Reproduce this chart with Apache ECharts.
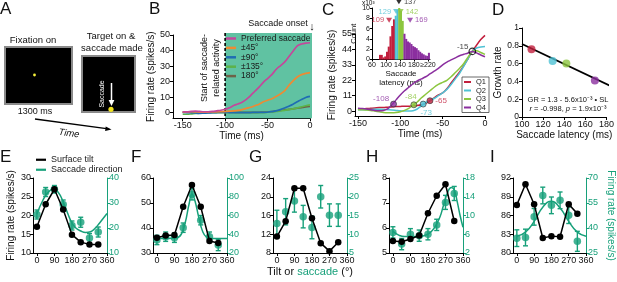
<!DOCTYPE html>
<html>
<head>
<meta charset="utf-8">
<script src="https://cdn.jsdelivr.net/npm/echarts@6/dist/echarts.min.js"></script>
<style>
html, body { margin: 0; padding: 0; background: #fff; }
#fig { width: 617px; height: 282px; }
</style>
</head>
<body>
<div id="fig"></div>
<script>
const FONT = '"Liberation Sans", Arial, sans-serif';
const GREEN = '#17a07a';
const SHADE = '#60c2a2';

// ---- B: firing rate vs time, by saccade direction ----
const timeMs = [-150,-145,-140,-135,-130,-125,-120,-115,-110,-105,-100,-95,-90,-85,-80,-75,-70,-65,-60,-55,-50,-45,-40,-35,-30,-25,-20,-15,-10,-5,0];
const prefB = [0.5,0.5,0.8,1.0,0.8,0.6,0.6,0.8,1.2,1.6,2.2,3.2,4.6,5.6,6.8,8.6,11,13.8,16.5,19.5,22,24.5,27.8,30.2,32.5,36,39.5,43,44.2,44.8,45];
const d45B = [0.4,0.5,0.6,0.5,0.4,0.3,0.4,0.5,0.5,0.6,0.8,1.0,1.2,1.5,2,2.8,3.5,4.5,5.5,7,8,9,10.5,12,14,17.5,20.5,23,24.5,25.3,25.8];
const d90B = [0.2,0.1,0,-0.2,-0.4,-0.3,-0.2,0,0.1,0.2,0.2,0.1,0,0,0,0.1,0.1,0.2,0.2,0.2,0.3,0.7,1.2,2.0,3.0,4.2,5.5,7,8.5,9.8,10.5];
const d135B = [-1,-1,-0.8,-0.5,-0.3,-0.2,0,0,0,0,0,0.1,0.1,0,0,0,0,0,0,0.1,0.3,0.5,0.8,1.1,1.5,2,2.5,3.1,3.8,4.5,5];
const d180B = [0.3,0.4,0.5,0.5,0.4,0.3,0.3,0.3,0.3,0.3,0.3,0.3,0.3,0.2,0.2,0.2,0.2,0.2,0.3,0.4,0.5,0.7,1.0,1.4,1.8,2.2,2.5,2.9,3.3,3.7,4];
const bNames = ['Preferred saccade', '±45°', '±90°', '±135°', '180°'];
const activityStart = -100;
const saccadeOnset = 0;
const timeTicks = [-150, -100, -50, 0];
const rateTicksB = [0, 10, 20, 30, 40, 50];

// ---- C: latency quartiles ----
const q1C = [1.5,1.5,1.8,2,2.2,2.5,2.5,2.8,3,3.2,3.3,3.5,3.5,3.8,4,4.5,5.5,7.4,9.5,11.5,13,16,20,24,28,32.5,37.5,42.6,47,51,54];
const q2C = [1,1,1,1.2,1.3,1.3,1.2,1,0.8,0.5,0.2,0,0,0.3,1.5,3.8,6,7.5,9,11,13,15.5,19,23,27,32,37.5,42.6,45,45.8,46];
const q3C = [1,1,0.8,0.5,0,-0.5,-1,-1.2,-1.2,-1,-0.5,0.5,2,4.2,6.5,9.5,12,14.5,17,19,20.5,22,24.5,27.5,30.5,34,38.5,42.6,43,41.8,40.5];
const q4C = [2,1.8,1.5,1,0.5,0.3,0.5,1.5,4.5,8,11.5,14.5,17,19.5,21.5,23,24.5,26.5,28.5,30.5,33,35,36.5,38,39.5,40.5,41.5,42.6,41.5,40,38.8];
const qNames = ['Q1', 'Q2', 'Q3', 'Q4'];
const onsetTimes = [-65, -73, -84, -108];
const onsetRates = [7.4, 5, 4.5, 5];
const convergeTime = [-15];
const convergeRate = [42.6];
const rateTicksC = [0, 11, 22, 33, 44, 55];

// ---- C inset: latency histogram (counts x10^3) ----
const histBins = [80,85,90,95,100,105,110,115,120,125,130,135,140,145,150,155,160,165,170,175,180,185,190,195,200,205,210,215,220];
const histCounts = [0.9,0.9,0.4,0.6,1.5,2.5,4.5,6.5,7.8,8.5,9.6,10,9.5,7.5,5,4,3.5,3.3,3,2.6,2.4,2.2,1.8,1.5,1.2,1.0,0.8,0.7,1.3];
const histQuart = [0,0,0,0,0,0,0,0,0,1,1,2,2,2,3,3,3,3,3,3,3,3,3,3,3,3,3,3,3];
const binWidth = 5;
const medianLat = [109, 129, 137, 142, 169];
const medianMark = [7.6, 9.3, 11.2, 9.3, 7.6];
const histXTicks = [60, 100, 140, 180, 220];
const histYTicks = [0, 2, 4, 6, 8, 10];

// ---- D: growth rate vs latency ----
const latD = [109, 129, 142, 169];
const growthD = [0.76, 0.63, 0.6, 0.41];
const fitD = [[100, 0.82], [187, 0.33]];

// ---- E-I: tuning curves ----
const angles = [0, 45, 90, 135, 180, 225, 270, 315];
const angleTicks = [0, 90, 180, 270, 360];
const tiltE = [17, 23, 27, 21.6, 14.9, 12.9, 12.3, 12.3];
const saccE = [25.4, 34.4, 35.5, 29.4, 21, 22.3, 16, 18.4];
const errE = [1.8, 1.8, 1.5, 1.8, 1.8, 2, 1.8, 2];
const fitE = [[0,25.5],[30,31],[60,34.5],[85,35.6],[110,34.2],[135,30.5],[160,25.5],[180,22],[200,20],[225,18.8],[250,18.2],[275,18.5],[300,20],[320,21.8],[340,23.8],[360,25.8]];
const tiltF = [36.1, 37, 37.2, 48.5, 57.2, 48.5, 34.8, 34];
const saccF = [33.9, 37.4, 36.3, 47, 82.6, 55, 37.4, 28.5];
const errF = [5, 5, 5, 5, 6, 5, 5, 6];
const fitF = [[0,35.5],[60,35.5],[100,36],[125,40],[145,52],[165,72],[180,83],[195,76],[215,58],[235,43],[255,37],[280,35.5],[360,35.5]];
const tiltG = [11.5, 14.8, 21.8, 21.8, 15.4, 10.1, 8.4, 10.3];
const saccG = [12.9, 16, 18.9, 14.7, 11.8, 20, 15.1, 15.1];
const errG = [3.5, 3.5, 3, 3, 3, 3, 3, 3];
const tiltH = [5.48, 5.45, 5.56, 5.7, 6.59, 7.29, 7.75, 6.28];
const saccH = [6.4, 3.9, 6.0, 5.7, 6.0, 8.0, 12.8, 14.7];
const errH = [1.2, 1.2, 1.2, 1.2, 1.2, 1.2, 1.5, 1.5];
const fitH = [[0,6.6],[30,5.8],[60,5.5],[120,5.5],[160,5.7],[190,6.3],[215,7.5],[240,9.5],[260,12.2],[280,14.8],[300,16],[315,15.5],[330,13],[345,10],[360,7.5]];
const tiltI = [87.7, 91.0, 87.8, 82.4, 82.7, 82.6, 87.8, 86.3];
const saccI = [33.9, 34.3, 46.7, 59.5, 53.6, 56.6, 47.7, 32];
const errI = [5, 5, 5, 5, 5, 5, 5, 6];
const fitI = [[0,35],[45,37.5],[90,44],[135,52.5],[180,56],[225,52],[270,44],[315,37.5],[360,35]];
const ticksLE = [10, 15, 20, 25, 30], ticksRE = [10, 20, 30, 40];
const ticksLF = [30, 40, 50, 60], ticksRF = [20, 40, 60, 80, 100];
const ticksLG = [8, 12, 16, 20, 24], ticksRG = [5, 10, 15, 20, 25];
const ticksLH = [5, 6, 7, 8], ticksRH = [2, 6, 10, 14, 18];
const ticksLI = [80, 83, 86, 89, 92], ticksRI = [25, 40, 55, 70];

// colours
const bCols = ['#c4479b', '#ee8a33', '#1f6db3', '#5cb34a', '#6d6248'];
const qCols = ['#c21f3d', '#4fc2d4', '#8cc63f', '#8b2f9f'];
const medCols = ['#c21f3d', '#4fc2d4', '#000000', '#8cc63f', '#8b2f9f'];

function mkAxis(o) {
    const col = o.color || '#000';
    const a = {
        type: 'value', gridIndex: o.grid, min: o.min, max: o.max, position: o.pos,
        axisLine: { show: true, onZero: false, lineStyle: { color: col, width: 1 } },
        axisTick: { show: true, length: o.tickLen || 3, customValues: o.ticks, lineStyle: { color: col, width: 1 } },
        axisLabel: {
            customValues: o.ticks, fontSize: o.fs || 9, fontFamily: FONT,
            color: o.color ? col : '#111', margin: o.margin == null ? 3 : o.margin,
            formatter: o.fmt
        },
        splitLine: { show: false }
    };
    if (o.name) {
        a.name = o.name;
        a.nameLocation = 'middle';
        a.nameGap = o.nameGap;
        if (o.nameRotate != null) a.nameRotate = o.nameRotate;
        a.nameTextStyle = { fontSize: o.nfs || 10, color: o.color ? col : '#111', fontFamily: FONT, lineHeight: o.nlh };
    }
    return a;
}

function renderShade(params, api) {
    const cs = params.coordSys;
    const xa = api.coord([api.value(0), 0])[0];
    const xb = api.coord([api.value(1), 0])[0];
    return {
        type: 'group', children: [
            { type: 'rect', shape: { x: xa, y: cs.y - 2, width: xb - xa + 2, height: cs.height + 2 }, style: { fill: SHADE } },
            { type: 'line', shape: { x1: xa, y1: cs.y - 2, x2: xa, y2: cs.y + cs.height }, style: { stroke: '#000', lineWidth: 1.6, lineDash: [3, 2] } }
        ]
    };
}

function renderHist(params, api) {
    const x0 = api.value(0), c = api.value(1), q = api.value(2);
    const p0 = api.coord([x0, c]), p1 = api.coord([x0 + binWidth, 0]);
    return { type: 'rect', shape: { x: p0[0], y: p0[1], width: p1[0] - p0[0] + 0.3, height: p1[1] - p0[1] }, style: { fill: qCols[q] } };
}

function renderErr(params, api) {
    const x = api.value(0), y = api.value(1), e = api.value(2);
    const a = api.coord([x, y + e]), b = api.coord([x, y - e]);
    const st = { stroke: GREEN, lineWidth: 1.4 };
    const w = 2.5;
    return {
        type: 'group', children: [
            { type: 'line', shape: { x1: a[0], y1: a[1], x2: b[0], y2: b[1] }, style: st },
            { type: 'line', shape: { x1: a[0] - w, y1: a[1], x2: a[0] + w, y2: a[1] }, style: st },
            { type: 'line', shape: { x1: b[0] - w, y1: b[1], x2: b[0] + w, y2: b[1] }, style: st }
        ]
    };
}

const grids = [
    { left: 173, top: 35, width: 137, height: 83.3 },   // B
    { left: 355, top: 34, width: 130, height: 82 },     // C
    { left: 372, top: 8, width: 58, height: 51.5 },     // C inset
    { left: 522, top: 28, width: 88, height: 89 }       // D
];
const xAxes = [
    mkAxis({ grid: 0, min: -161.4, max: 0, ticks: timeTicks, name: 'Time (ms)', nameGap: 13 }),
    mkAxis({ grid: 1, min: -153.5, max: 0, ticks: timeTicks, name: 'Time (ms)', nameGap: 13 }),
    mkAxis({ grid: 2, min: 60, max: 226, ticks: histXTicks, fs: 7, margin: 2, tickLen: 2,
        fmt: v => (v === 220 ? '≥220' : String(v)), name: 'Saccade\nlatency (ms)', nameGap: 10, nfs: 8, nlh: 9 }),
    mkAxis({ grid: 3, min: 100, max: 180, ticks: [100, 120, 140, 160, 180], fs: 9, name: 'Saccade latency (ms)', nameGap: 10 })
];
const yAxes = [
    mkAxis({ grid: 0, min: -3.6, max: 50, ticks: rateTicksB, name: 'Firing rate (spikes/s)', nameGap: 12 }),
    mkAxis({ grid: 1, min: -3.5, max: 55, ticks: rateTicksC, name: 'Firing rate (spikes/s)', nameGap: 18 }),
    mkAxis({ grid: 2, min: 0, max: 10, ticks: histYTicks, fs: 7, margin: 2, tickLen: 2, name: 'Count', nameGap: 8, nfs: 7.5 }),
    mkAxis({ grid: 3, min: 0, max: 1, ticks: [0, 0.2, 0.4, 0.6, 0.8, 1], fs: 8.5, name: 'Growth rate', nameGap: 16 })
];

const series = [];

// B
series.push({ type: 'custom', xAxisIndex: 0, yAxisIndex: 0, z: 1, silent: true, renderItem: renderShade, data: [[activityStart, saccadeOnset]] });
[prefB, d45B, d90B, d135B, d180B].forEach((arr, i) => {
    series.push({
        type: 'line', name: bNames[i], xAxisIndex: 0, yAxisIndex: 0, z: 8 - i,
        data: timeMs.map((t, j) => [t, arr[j]]), showSymbol: false, smooth: 0.3,
        lineStyle: { color: bCols[i], width: 1.7 }, itemStyle: { color: bCols[i] }
    });
});

// C
[q1C, q2C, q3C, q4C].forEach((arr, i) => {
    series.push({
        type: 'line', name: qNames[i], xAxisIndex: 1, yAxisIndex: 1, z: 3,
        data: timeMs.map((t, j) => [t, arr[j]]), showSymbol: false, smooth: 0.3,
        lineStyle: { color: qCols[i], width: 1.5 }, itemStyle: { color: qCols[i] }
    });
});
const onsetLabelPos = [
    { position: 'right', distance: 2 },
    { position: 'bottom', distance: 1, offset: [3, 0] },
    { position: 'top', distance: 1, offset: [-3, 0] },
    { position: 'left', distance: 1, offset: [0, -5] }
];
series.push({
    type: 'scatter', xAxisIndex: 1, yAxisIndex: 1, z: 6, symbolSize: 6,
    data: onsetTimes.map((t, i) => ({
        value: [t, onsetRates[i]],
        itemStyle: { color: qCols[i], borderColor: '#333', borderWidth: 0.8 },
        label: Object.assign({ show: true, formatter: String(t), color: qCols[i], fontSize: 8, fontFamily: FONT }, onsetLabelPos[i])
    }))
});
series.push({
    type: 'scatter', xAxisIndex: 1, yAxisIndex: 1, z: 6, symbolSize: 6.5,
    data: convergeTime.map((t, i) => ({
        value: [t, convergeRate[i]],
        itemStyle: { color: 'rgba(255,255,255,0)', borderColor: '#000', borderWidth: 1.2 },
        label: { show: true, formatter: String(t), color: '#111', fontSize: 8, fontFamily: FONT, position: 'left', distance: 0, offset: [0, -5] }
    }))
});

// C inset
series.push({
    type: 'custom', xAxisIndex: 2, yAxisIndex: 2, z: 4, renderItem: renderHist,
    data: histBins.map((b, i) => [b, histCounts[i], histQuart[i]])
});
series.push({
    type: 'scatter', xAxisIndex: 2, yAxisIndex: 2, z: 5, clip: false, symbol: 'triangle', symbolRotate: 180, symbolSize: [6, 5],
    data: medianLat.map((m, i) => ({
        value: [m, medianMark[i]],
        itemStyle: { color: medCols[i] },
        label: { show: true, formatter: String(m), color: medCols[i] === '#000000' ? '#111' : medCols[i], fontSize: 7.5, fontFamily: FONT,
            position: i < 2 ? 'left' : 'right', distance: 2 }
    }))
});

// D
series.push({
    type: 'line', xAxisIndex: 3, yAxisIndex: 3, z: 3, clip: false, showSymbol: false, data: fitD,
    lineStyle: { color: '#000', width: 1.8 }, itemStyle: { color: '#000' }
});
series.push({
    type: 'scatter', xAxisIndex: 3, yAxisIndex: 3, z: 5, symbolSize: 8,
    data: latD.map((l, i) => ({ value: [l, growthD[i]], itemStyle: { color: qCols[i] } }))
});

// E-I
const panels = [
    { left: 33, tilt: tiltE, sacc: saccE, err: errE, fit: fitE, tl: ticksLE, tr: ticksRE },
    { left: 153, tilt: tiltF, sacc: saccF, err: errF, fit: fitF, tl: ticksLF, tr: ticksRF },
    { left: 273, tilt: tiltG, sacc: saccG, err: errG, fit: null, tl: ticksLG, tr: ticksRG },
    { left: 389, tilt: tiltH, sacc: saccH, err: errH, fit: fitH, tl: ticksLH, tr: ticksRH },
    { left: 513, tilt: tiltI, sacc: saccI, err: errI, fit: fitI, tl: ticksLI, tr: ticksRI }
];
panels.forEach((p, k) => {
    const g = grids.length;
    grids.push({ left: p.left, top: 178, width: 74, height: 75 });
    const xi = xAxes.length;
    xAxes.push(mkAxis({ grid: g, min: -20, max: 360, ticks: angleTicks, fs: 9, margin: 3 }));
    const yl = yAxes.length;
    yAxes.push(mkAxis({ grid: g, min: p.tl[0], max: p.tl[p.tl.length - 1], ticks: p.tl, pos: 'left', fs: 9, margin: 2,
        name: k === 0 ? 'Firing rate (spikes/s)' : null, nameGap: 17 }));
    yAxes.push(mkAxis({ grid: g, min: p.tr[0], max: p.tr[p.tr.length - 1], ticks: p.tr, pos: 'right', fs: 9, margin: 2, color: GREEN,
        name: k === 4 ? 'Firing rate (spikes/s)' : null, nameGap: 20, nameRotate: -90 }));
    if (p.fit) {
        series.push({
            type: 'line', name: k === 0 ? 'Saccade direction' : undefined, xAxisIndex: xi, yAxisIndex: yl + 1, z: 3,
            data: p.fit, smooth: 0.5, showSymbol: false, clip: false,
            lineStyle: { color: GREEN, width: 1.5 }, itemStyle: { color: GREEN }
        });
    }
    series.push({
        type: 'custom', xAxisIndex: xi, yAxisIndex: yl + 1, z: 4, renderItem: renderErr,
        data: angles.map((a, i) => [a, p.sacc[i], p.err[i]])
    });
    series.push({
        type: 'scatter', xAxisIndex: xi, yAxisIndex: yl + 1, z: 4, symbolSize: 7.5,
        data: angles.map((a, i) => [a, p.sacc[i]]), itemStyle: { color: GREEN }
    });
    series.push({
        type: 'line', name: k === 0 ? 'Surface tilt' : undefined, xAxisIndex: xi, yAxisIndex: yl, z: 5,
        data: angles.map((a, i) => [a, p.tilt[i]]), symbol: 'circle', symbolSize: 6.5, showSymbol: true,
        lineStyle: { color: '#000', width: 1.5 }, itemStyle: { color: '#000' }
    });
});

function txt(x, y, s, o) {
    o = o || {};
    return {
        type: 'text', x: x, y: y, rotation: o.rot || 0, z: 20,
        style: {
            text: s, fontSize: o.fs || 9, fontFamily: FONT, fill: o.color || '#111',
            fontStyle: o.italic ? 'italic' : 'normal', rich: o.rich,
            textAlign: o.align || 'center', textVerticalAlign: o.valign || 'middle'
        }
    };
}

const graphics = [
    // panel letters
    txt(0, 9, 'A', { fs: 17, align: 'left' }),
    txt(149, 9, 'B', { fs: 17, align: 'left' }),
    txt(322, 10, 'C', { fs: 17, align: 'left' }),
    txt(492, 10, 'D', { fs: 17, align: 'left' }),
    txt(0, 157, 'E', { fs: 17, align: 'left' }),
    txt(131, 157, 'F', { fs: 17, align: 'left' }),
    txt(249, 157, 'G', { fs: 17, align: 'left' }),
    txt(366, 157, 'H', { fs: 17, align: 'left' }),
    txt(490, 157, 'I', { fs: 17, align: 'left' }),

    // panel A schematic
    txt(33, 40, 'Fixation on', { fs: 9.5 }),
    { type: 'rect', shape: { x: 5, y: 47, width: 67, height: 57 }, style: { fill: '#000', stroke: '#8a8a8a', lineWidth: 2 } },
    { type: 'circle', shape: { cx: 34.5, cy: 75, r: 1.4 }, style: { fill: '#f5f03a' } },
    txt(35, 112, '1300 ms', { fs: 9 }),
    txt(111, 36, 'Target on &', { fs: 9.5 }),
    txt(112, 48, 'saccade made', { fs: 9.5 }),
    { type: 'rect', shape: { x: 82, y: 56, width: 53, height: 56 }, style: { fill: '#000', stroke: '#8a8a8a', lineWidth: 2 } },
    { type: 'line', shape: { x1: 111.5, y1: 83, x2: 111.5, y2: 101 }, style: { stroke: '#fff', lineWidth: 1.5 } },
    { type: 'polygon', shape: { points: [[108.6, 100], [114.4, 100], [111.5, 106]] }, style: { fill: '#fff' } },
    txt(102, 94, 'Saccade', { fs: 7, color: '#fff', rot: Math.PI / 2 }),
    { type: 'circle', shape: { cx: 111, cy: 109.3, r: 2.6 }, style: { fill: '#f0e21e' } },
    { type: 'line', shape: { x1: 35, y1: 119, x2: 106.5, y2: 128.7 }, style: { stroke: '#000', lineWidth: 1.3 } },
    { type: 'polygon', shape: { points: [[111.5, 129.5], [105.7, 126.4], [105.1, 131.0]] }, style: { fill: '#000' } },
    txt(69, 133.5, 'Time', { fs: 9.5, italic: true, rot: -0.13 }),

    // panel B annotations
    txt(278, 23.5, 'Saccade onset', { fs: 9 }),
    txt(312, 27, '↓', { fs: 11 }),
    txt(205, 68, 'Start of saccade-', { fs: 9, rot: Math.PI / 2 }),
    txt(216.5, 68, 'related activity', { fs: 9, rot: Math.PI / 2 }),

    // C inset scale
    txt(362, 3, 'x10³', { fs: 6.5, align: 'left' }),

    // D equations
    txt(568, 99.5, 'GR = 1.3 - 5.6x10⁻³ • SL', { fs: 7.5 }),
    txt(568, 108.5, '{i|r} = -0.998, {i|p} = 1.9x10⁻³', { fs: 7.5,
        rich: { i: { fontStyle: 'italic', fontSize: 7.5, fontFamily: FONT, fill: '#111' } } }),

    // bottom row x label
    txt(310, 272, '{a|Tilt or }{b|saccade}{a| (°)}', { fs: 11,
        rich: { a: { fontSize: 11, fontFamily: FONT, fill: '#111' }, b: { fontSize: 11, fontFamily: FONT, fill: GREEN } } })
];

const chart = echarts.init(document.getElementById('fig'), null, { renderer: 'canvas' });
chart.setOption({
    animation: false,
    backgroundColor: '#fff',
    textStyle: { fontFamily: FONT },
    grid: grids,
    xAxis: xAxes,
    yAxis: yAxes,
    legend: [
        {
            data: bNames, left: 226, top: 34, orient: 'vertical', icon: 'rect', itemWidth: 10, itemHeight: 2.5,
            itemGap: 0.4, padding: 0, selectedMode: false,
            textStyle: { fontSize: 8.5, lineHeight: 8, color: '#1a1a1a', fontFamily: FONT }
        },
        {
            data: qNames, left: 462, top: 77, orient: 'vertical', icon: 'rect', itemWidth: 7, itemHeight: 2,
            itemGap: 0.5, padding: [1, 3, 1, 2], borderColor: '#444', borderWidth: 0.8, selectedMode: false,
            textStyle: { fontSize: 7.5, lineHeight: 8, color: '#1a1a1a', fontFamily: FONT }
        },
        {
            data: ['Surface tilt', 'Saccade direction'], left: 36, top: 155, orient: 'vertical', icon: 'rect',
            itemWidth: 10, itemHeight: 2.2, itemGap: 0.5, padding: 0, selectedMode: false,
            textStyle: { fontSize: 9, lineHeight: 9.5, color: '#1a1a1a', fontFamily: FONT }
        }
    ],
    graphic: graphics,
    series: series
});
</script>
</body>
</html>
